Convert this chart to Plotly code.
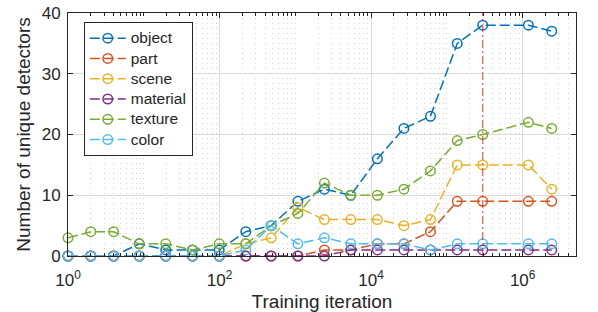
import plotly.graph_objects as go

# ---- data ----
iterations = [1, 2, 4, 8.7, 19.5, 44, 99, 222, 480, 1080, 2420, 5400, 12100,
              27100, 60700, 137000, 297000, 1.19e6, 2.42e6]
obj      = [0, 0, 0, 2, 1, 1, 1, 4, 5, 9, 11, 10, 16, 21, 23, 35, 38, 38, 37]
part     = [0, 0, 0, 0, 0, 0, 0, 0, 0, 0, 1, 1, 2, 2, 4, 9, 9, 9, 9]
scene    = [0, 0, 0, 0, 0, 0, 0, 2, 3, 8, 6, 6, 6, 5, 6, 15, 15, 15, 11]
material = [0, 0, 0, 0, 0, 0, 0, 0, 0, 0, 0, 1, 1, 1, 1, 1, 1, 1, 1]
texture  = [3, 4, 4, 2, 2, 1, 2, 2, 5, 7, 12, 10, 10, 11, 14, 19, 20, 22, 21]
color    = [0, 0, 0, 0, 0, 0, 0, 1, 5, 2, 3, 2, 2, 2, 1, 2, 2, 2, 2]

series_names = ["object", "part", "scene", "material", "texture", "color"]
series_vals = [obj, part, scene, material, texture, color]
series_colors = ["#0072BD", "#D95319", "#EDB120", "#7E2F8E", "#77AC30", "#4DBEEE"]

marked_iteration = iterations[16]
y_limits = [0, 40]

x_tick_vals = [1, 100, 1e4, 1e6]
x_tick_text = ["10<sup>0</sup>", "10<sup>2</sup>", "10<sup>4</sup>", "10<sup>6</sup>"]
minor_vals = [m * 10 ** e for e in range(0, 7) for m in range(1, 10)
              if not (m == 1 and e % 2 == 0)]

FONT = "Liberation Sans, Arial, Helvetica, sans-serif"
AX = "#262626"

fig = go.Figure()
for name, vals, col in zip(series_names, series_vals, series_colors):
    fig.add_trace(go.Scatter(
        x=iterations, y=vals, mode="lines+markers",
        name="<span style='font-size:15.5px'>" + name + "</span>",
        line=dict(color=col, width=1.5, dash="10px,4px"),
        marker=dict(symbol="circle-open", size=9.5, color=col,
                    line=dict(width=1.5, color=col)),
        cliponaxis=False,
    ))

fig.add_trace(go.Scatter(
    x=[marked_iteration, marked_iteration], y=y_limits, mode="lines",
    line=dict(color="rgba(255,0,0,0.75)", width=1, dash="8px,3px,2px,3px"),
    showlegend=False, hoverinfo="skip",
))

fig.update_layout(
    width=598, height=312,
    margin=dict(l=68, r=22, t=13, b=56, autoexpand=False),
    paper_bgcolor="white", plot_bgcolor="white",
    font=dict(family=FONT, size=17, color=AX),
    showlegend=True,
    legend=dict(
        x=0.031, y=0.963, xanchor="left", yanchor="top",
        bgcolor="white", bordercolor=AX, borderwidth=1,
        font=dict(family=FONT, size=13.3, color=AX),
        itemwidth=36, tracegroupgap=0,
    ),
)

fig.update_xaxes(
    type="log", range=[0, 6.704], automargin=False,
    tickmode="array", tickvals=x_tick_vals, ticktext=x_tick_text,
    ticks="inside", ticklen=5, tickcolor=AX, tickwidth=1,
    ticklabelstandoff=9,
    showline=True, linecolor=AX, linewidth=1, mirror="ticks",
    showgrid=True, gridcolor="#dcdcdc", gridwidth=1,
    tickfont=dict(size=17, color=AX),
    title=dict(text="Training iteration", font=dict(size=19, color=AX), standoff=6),
    minor=dict(tickmode="array", tickvals=minor_vals, ticks="inside", ticklen=3,
               tickcolor=AX, showgrid=True, gridcolor="#d2d2d2", griddash="1px,4px",
               gridwidth=1),
    zeroline=False,
)
fig.update_yaxes(
    range=y_limits, tickmode="array", tickvals=[0, 10, 20, 30, 40], automargin=False,
    ticks="inside", ticklen=5, tickcolor=AX, tickwidth=1,
    ticklabelstandoff=3,
    showline=True, linecolor=AX, linewidth=1, mirror="ticks",
    showgrid=True, gridcolor="#dcdcdc", gridwidth=1,
    tickfont=dict(size=17, color=AX),
    title=dict(text="Number of unique detectors", font=dict(size=19, color=AX), standoff=6),
    zeroline=False,
)

fig.write_html("out.html",
               config={"displayModeBar": False},
               post_script="document.body.style.margin='0';"
                           "document.body.style.overflow='hidden';")
